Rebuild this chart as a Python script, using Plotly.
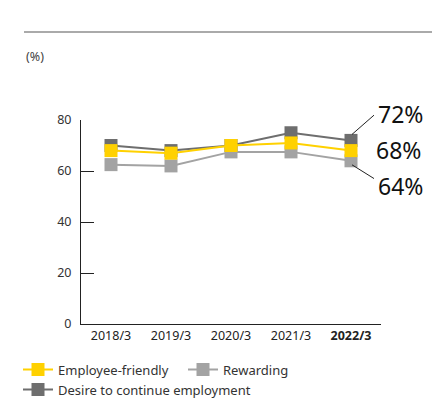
import plotly.graph_objects as go

categories = ["2018/3", "2019/3", "2020/3", "2021/3", "2022/3"]
tick_labels = ["2018/3", "2019/3", "2020/3", "2021/3", "<b>2022/3</b>"]
employee_friendly = [68, 67, 70, 71, 68]
rewarding = [62.5, 62, 67.5, 67.5, 64]
desire_continue = [70, 68, 70, 75, 72]
y_ticks = [0, 20, 40, 60, 80]

FONT = "Noto Sans"
YELLOW = "#FFD100"
LGRAY = "#A3A3A3"
DGRAY = "#6E6E6E"

fig = go.Figure()
series = [
    ("Desire to continue employment", desire_continue, DGRAY, 3),
    ("Rewarding", rewarding, LGRAY, 2),
    ("Employee-friendly", employee_friendly, YELLOW, 1),
]
for name, vals, col, rank in series:
    fig.add_trace(go.Scatter(
        x=categories, y=vals, name=name, mode="lines+markers",
        line=dict(color=col, width=2),
        marker=dict(symbol="square", size=13, color=col),
        legendrank=rank, cliponaxis=False,
    ))

last = categories[-1]
lab_font = dict(size=23, color="#111", family=FONT)
# value labels
fig.add_annotation(x=last, y=desire_continue[-1], text=f"{desire_continue[-1]}%",
                   showarrow=False, xshift=49, yshift=26, font=lab_font)
fig.add_annotation(x=last, y=employee_friendly[-1], text=f"{employee_friendly[-1]}%",
                   showarrow=False, xshift=47, yshift=1, font=lab_font)
fig.add_annotation(x=last, y=rewarding[-1], text=f"{rewarding[-1]}%",
                   showarrow=False, xshift=49, yshift=-25, font=lab_font)
# leader lines
fig.add_annotation(x=last, y=desire_continue[-1], text=" ", showarrow=True,
                   arrowhead=0, arrowwidth=1, arrowcolor="#222", standoff=0,
                   xshift=1, yshift=6, ax=24, ay=-21, font=dict(size=2))
fig.add_annotation(x=last, y=rewarding[-1], text=" ", showarrow=True,
                   arrowhead=0, arrowwidth=1, arrowcolor="#222", standoff=0,
                   xshift=1, yshift=-4, ax=24, ay=15, font=dict(size=2))

fig.add_annotation(x=-0.19, y=1.309, xref="paper", yref="paper", text="(%)",
                   showarrow=False, xanchor="left", yanchor="middle",
                   font=dict(size=12.5, color="#444", family=FONT))
fig.add_shape(type="line", xref="paper", yref="paper", x0=-0.19, x1=1.17,
              y0=1.431, y1=1.431, line=dict(color="#AAAAAA", width=2))

fig.update_layout(
    width=448, height=405,
    margin=dict(l=81, r=67, t=120, b=81, autoexpand=False),
    paper_bgcolor="white", plot_bgcolor="white",
    font=dict(family=FONT, color="#333", size=12),
    showlegend=True,
    legend=dict(orientation="h", x=-0.21, xanchor="left", y=-0.15, yanchor="top",
                font=dict(size=13, color="#333", family=FONT),
                tracegroupgap=0, entrywidth=120, entrywidthmode="pixels"),
    xaxis=dict(type="category", range=[-0.5, 4.5], showline=True, linecolor="#222",
               linewidth=1, ticks="", showgrid=False, zeroline=False,
               tickvals=categories, ticktext=tick_labels,
               tickfont=dict(size=12.5, color="#222")),
    yaxis=dict(range=[0, 80], showline=True, linecolor="#222", linewidth=1,
               ticks="inside", ticklen=13, tickcolor="#222", tickvals=y_ticks,
               showgrid=False, zeroline=False, ticklabelstandoff=6,
               tickfont=dict(size=12.5, color="#333")),
)

fig.write_html("out.html")
